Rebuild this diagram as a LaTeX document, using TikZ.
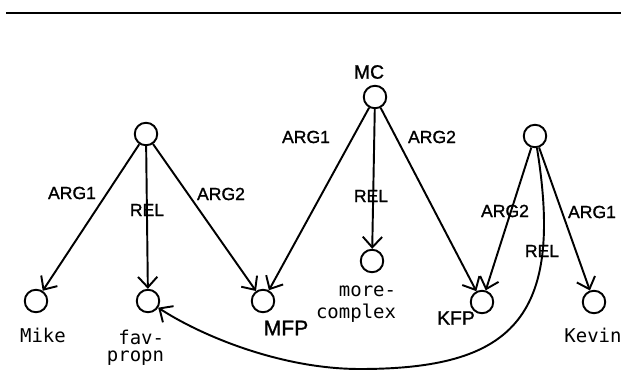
\documentclass[tikz,border=0pt]{standalone}
\usepackage{fontspec}
\setmainfont{Liberation Sans}
\newfontfamily\handfont[FakeBold=1.2]{Liberation Sans}
\newfontfamily\lpfont{DejaVu Sans Mono}
\usetikzlibrary{arrows.meta}
\tikzset{
  pt/.style={circle, draw, line width=1.1pt, minimum size=0.45cm, inner sep=0pt},
  hand/.style={font=\handfont\fontsize{10}{12}\selectfont, inner sep=0pt},
  lp/.style={font=\lpfont\fontsize{10.8}{9.4}\selectfont, inner sep=0pt, anchor=base},
  >={Straight Barb[length=6pt,width=11pt]}
}
\begin{document}
\begin{tikzpicture}[x=0.02cm, y=-0.02cm, line width=1.1pt]
\useasboundingbox (0,0) rectangle (626,372);
\coordinate (rl) at (6,13);
\coordinate (rr) at (621,13);
\draw[line width=1.5pt] (rl) -- (rr);
\node[pt] (L) at (146,134) {};
\node[pt] (mike) at (36,301) {};
\node[pt] (fav) at (148,301) {};
\node[pt] (mfp) at (263,301) {};
\node[pt] (mc) at (375,97) {};
\node[pt] (more) at (372,261) {};
\node[pt] (kfp) at (482,302) {};
\node[pt] (R) at (535,136) {};
\node[pt] (kevin) at (594,302) {};
\draw[->] (L) -- (mike);
\draw[->] (L) -- (fav);
\draw[->] (L) -- (mfp);
\draw[->] (mc) -- (mfp);
\draw[->] (mc) -- (more);
\draw[->] (mc) -- (kfp);
\draw[->] (R) -- (kfp);
\draw[->] (R) -- (kevin);
\draw[->] (R) .. controls (565,320) and (510,369) .. (360,369)
  .. controls (280,369) and (200,335) .. (fav);
\node[hand] (a1l) at (72,193) {ARG1};
\node[hand] (rell) at (147,210) {REL};
\node[hand] (a2l) at (221,194) {ARG2};
\node[hand] (a1m) at (306,137) {ARG1};
\node[hand] (relm) at (371,196) {REL};
\node[hand] (a2m) at (432,137) {ARG2};
\node[hand] (a2r) at (505,211) {ARG2};
\node[hand] (a1r) at (592,212) {ARG1};
\node[hand] (relr) at (542,251) {REL};
\node[hand, font=\handfont\fontsize{11}{13}\selectfont] (tmc) at (369,72) {MC};
\node[hand, font=\handfont\fontsize{12}{14}\selectfont] (tmfp) at (286,328) {MFP};
\node[hand, font=\handfont\fontsize{11}{13}\selectfont] (tkfp) at (456,318) {KFP};
\node[lp] (tmike) at (43,342) {Mike};
\node[lp, anchor=base east, align=right] (tfav) at (165,361) {fav-\\propn};
\node[lp, anchor=base east, align=right, font=\lpfont\fontsize{10.8}{12}\selectfont] (tmore) at (397,318) {more-\\complex};
\node[lp] (tkevin) at (593,342) {Kevin};
\end{tikzpicture}
\end{document}
